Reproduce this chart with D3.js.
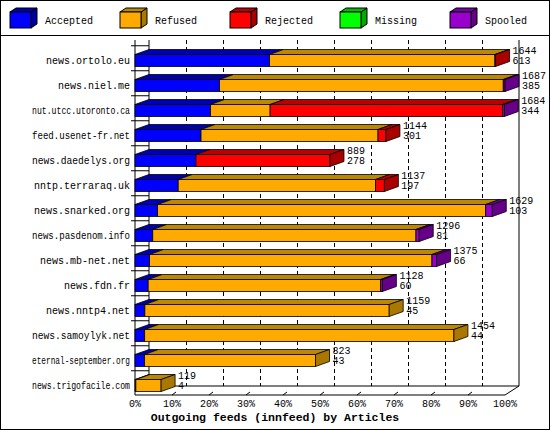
<!DOCTYPE html>
<html><head><meta charset="utf-8">
<script src="https://cdn.jsdelivr.net/npm/d3@7"></script>
<style>body{margin:0;background:#fff}svg{display:block}text{font-family:"Liberation Mono","DejaVu Sans Mono",monospace;font-size:10px}</style>
</head><body><div id="chart"></div>
<script>
const feeds = ["news.ortolo.eu","news.niel.me","nut.utcc.utoronto.ca","feed.usenet-fr.net","news.daedelys.org","nntp.terraraq.uk","news.snarked.org","news.pasdenom.info","news.mb-net.net","news.fdn.fr","news.nntp4.net","news.samoylyk.net","eternal-september.org","news.trigofacile.com"];
const accepted = [613,385,344,301,278,197,103,81,66,60,45,44,43,4];
const refused  = [1028,1294,272,807,0,900,1496,1200,1288,1060,1114,1410,780,115];
const rejected = [3,0,1060,36,611,40,0,0,0,0,0,0,0,0];
const missing  = [0,0,0,0,0,0,0,0,0,0,0,0,0,0];
const spooled  = [0,8,8,0,0,0,30,15,21,8,0,0,0,0];
const totals   = [1644,1687,1684,1144,889,1137,1629,1296,1375,1128,1159,1454,823,119];
const series = ["Accepted","Refused","Rejected","Missing","Spooled"];
const colors = ["#0000ff","#ffaa00","#ff0000","#00ff00","#9900cc"];
const sides  = ["#0000a0","#aa7700","#aa0000","#00aa00","#660088"];
const tops   = ["#0000b0","#bb8800","#bb0000","#00bb00","#7700aa"];
const ticks = [0,10,20,30,40,50,60,70,80,90,100];

const W = 550, H = 430, dx = 14, dy = 9, bdx = 14, bdy = 5, bh = 12;
const svg = d3.select("#chart").append("svg").attr("width", W).attr("height", H);
svg.append("rect").attr("x",0.5).attr("y",0.5).attr("width",W-1).attr("height",H-1).attr("fill","#fff").attr("stroke","#000");
svg.append("line").attr("x1",0).attr("x2",W).attr("y1",35.5).attr("y2",35.5).attr("stroke","#000");

// legend
series.forEach((s,i) => {
  const g = svg.append("g").attr("transform", `translate(${10+i*110},12)`);
  g.append("polygon").attr("points","21,0 27,-4 27,12 21,16").attr("fill",sides[i]).attr("stroke","#000");
  g.append("polygon").attr("points","0,0 6,-4 27,-4 21,0").attr("fill",tops[i]).attr("stroke","#000");
  g.append("rect").attr("width",21).attr("height",16).attr("fill",colors[i]).attr("stroke","#000");
  g.append("text").attr("x",35).attr("y",12).text(s);
});

const maxTotal = d3.max(totals);
const x = d3.scaleLinear().domain([0,100]).range([135,505]);
const y = d3.scaleBand().domain(feeds).range([46,396]).paddingInner(0.5).paddingOuter(0.25);
const yBase = 395;

// back wall + grid
svg.append("line").attr("x1",x(0)+dx).attr("x2",x(0)+dx).attr("y1",40).attr("y2",yBase-dy).attr("stroke","#000");
svg.append("line").attr("x1",x(100)+dx).attr("x2",x(100)+dx).attr("y1",40).attr("y2",yBase-dy).attr("stroke","#000");
svg.append("line").attr("x1",x(0)+dx).attr("x2",x(100)+dx).attr("y1",yBase-dy).attr("y2",yBase-dy).attr("stroke","#000");
svg.append("line").attr("x1",x(0)).attr("x2",x(100)).attr("y1",yBase).attr("y2",yBase).attr("stroke","#000");
svg.append("line").attr("x1",x(100)).attr("x2",x(100)+dx).attr("y1",yBase).attr("y2",yBase-dy).attr("stroke","#000");
svg.append("line").attr("x1",x(0)).attr("x2",x(0)).attr("y1",40).attr("y2",yBase).attr("stroke","#000");
ticks.slice(1,-1).forEach(t => {
  svg.append("line").attr("x1",x(t)+dx+0.5).attr("x2",x(t)+dx+0.5).attr("y1",40).attr("y2",yBase-dy)
    .attr("stroke","#000").attr("stroke-dasharray","4,3");
  svg.append("line").attr("x1",x(t)).attr("x2",x(t)+4).attr("y1",yBase).attr("y2",yBase-3).attr("stroke","#000");
});
feeds.forEach(f => {
  svg.append("line").attr("x1",x(0)-4).attr("x2",x(0)+dx).attr("y1",y(f)-6.5).attr("y2",y(f)-6.5).attr("stroke","#000");
});
ticks.forEach(t => {
  svg.append("text").attr("x",x(t)).attr("y",407).attr("text-anchor","middle").text(t+"%");
});
svg.append("text").attr("x",275).attr("y",421).attr("text-anchor","middle").attr("font-weight","bold").style("font-size","11.5px").text("Outgoing feeds (innfeed) by Articles");

// bars
const vals = [accepted, refused, rejected, missing, spooled];
feeds.forEach((f,i) => {
  const top = y(f) + y.bandwidth()/2 - bh/2 + 2;
  let cum = 0;
  const segs = [];
  vals.forEach((arr,k) => {
    const v = arr[i];
    if (v <= 0) return;
    segs.push({k, x0: x(cum/maxTotal*100), x1: x((cum+v)/maxTotal*100)});
    cum += v;
  });
  segs.forEach(s => {
    svg.append("polygon").attr("points",`${s.x0},${top} ${s.x0+bdx},${top-bdy} ${s.x1+bdx},${top-bdy} ${s.x1},${top}`)
      .attr("fill",tops[s.k]).attr("stroke","#000").attr("stroke-width",0.8);
  });
  segs.forEach(s => {
    svg.append("rect").attr("x",s.x0).attr("y",top).attr("width",s.x1-s.x0).attr("height",bh)
      .attr("fill",colors[s.k]).attr("stroke","#000").attr("stroke-width",0.8);
  });
  const last = segs[segs.length-1];
  svg.append("polygon").attr("points",`${last.x1},${top} ${last.x1+bdx},${top-bdy} ${last.x1+bdx},${top+bh-bdy} ${last.x1},${top+bh}`)
    .attr("fill",sides[last.k]).attr("stroke","#000").attr("stroke-width",0.8);
  svg.append("text").attr("x",last.x1+bdx+3).attr("y",top-1).text(totals[i]);
  svg.append("text").attr("x",last.x1+bdx+3).attr("y",top+9).text(accepted[i]);
  const lab = svg.append("text").attr("x",130).attr("y",top+9).attr("text-anchor","end").text(f);
  if (lab.node().getComputedTextLength() > 98) lab.attr("textLength",98).attr("lengthAdjust","spacingAndGlyphs");
});
</script></body></html>
